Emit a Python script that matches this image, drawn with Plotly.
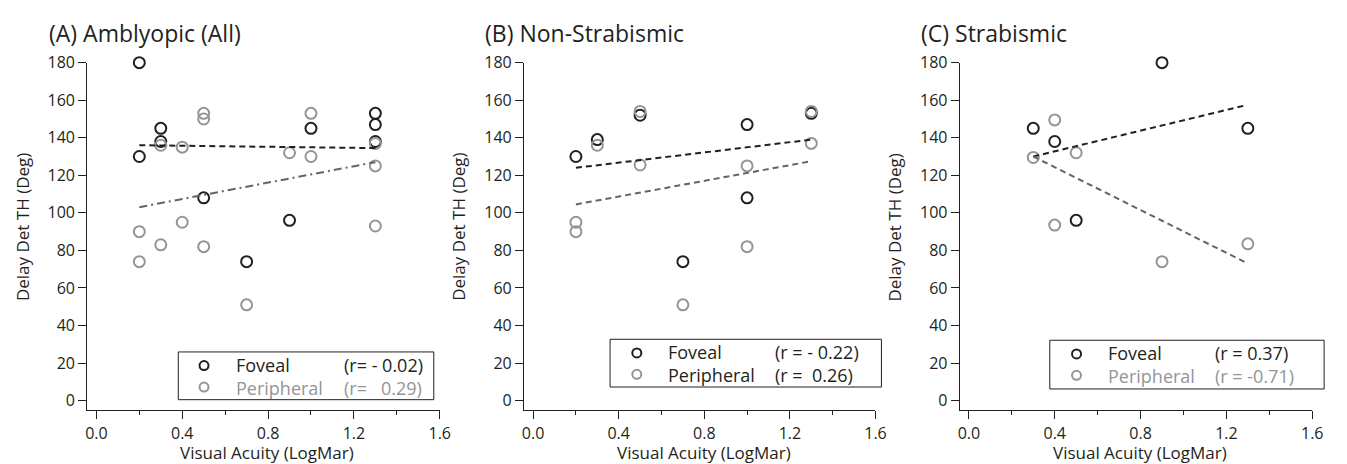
import plotly.graph_objects as go

W, H = 1347, 464

# ---------------- data ----------------
A_fov_x = [0.2, 0.2, 0.3, 0.3, 0.5, 0.7, 0.9, 1.0, 1.3, 1.3, 1.3]
A_fov_y = [180, 130, 145, 138, 108, 74, 96, 145, 153, 147, 138]
A_per_x = [0.2, 0.2, 0.3, 0.3, 0.4, 0.4, 0.5, 0.5, 0.5, 0.7, 0.9, 1.0, 1.0, 1.3, 1.3, 1.3]
A_per_y = [90, 74, 136, 83, 135, 95, 153, 150, 82, 51, 132, 153, 130, 137, 125, 93]
A_fov_fit_x = [0.2, 1.3]
A_fov_fit_y = [136, 134.5]
A_per_fit_x = [0.2, 1.3]
A_per_fit_y = [103, 127]

B_fov_x = [0.2, 0.3, 0.5, 0.7, 1.0, 1.0, 1.3]
B_fov_y = [130, 139, 152, 74, 147, 108, 153]
B_per_x = [0.2, 0.2, 0.3, 0.5, 0.5, 0.7, 1.0, 1.0, 1.3, 1.3]
B_per_y = [95, 90, 136, 154, 125.5, 51, 125, 82, 154, 137]
B_fov_fit_x = [0.2, 1.3]
B_fov_fit_y = [124, 139]
B_per_fit_x = [0.2, 1.3]
B_per_fit_y = [104.5, 127.5]

C_fov_x = [0.3, 0.4, 0.5, 0.9, 1.3]
C_fov_y = [145, 138, 96, 180, 145]
C_per_x = [0.3, 0.4, 0.4, 0.5, 0.9, 1.3]
C_per_y = [129.5, 149.5, 93.5, 132, 74, 83.5]
C_fov_fit_x = [0.3, 1.28]
C_fov_fit_y = [130, 157]
C_per_fit_x = [0.3, 1.3]
C_per_fit_y = [130, 73]

titles = ["(A) Amblyopic (All)", "(B) Non-Strabismic", "(C) Strabismic"]
r_fov = ["(r= - 0.02)", "(r = - 0.22)", "(r = 0.37)"]
r_per = ["(r=   0.29)", "(r =  0.26)", "(r = -0.71)"]
x_ticks = [0.0, 0.4, 0.8, 1.2, 1.6]
y_ticks = [0, 20, 40, 60, 80, 100, 120, 140, 160, 180]

# ---------------- style ----------------
BLACK = "#231f20"
GRAY = "#939598"
LGRAY = "#646567"
FONT = "Open Sans"

panels = [
    dict(fx=A_fov_x, fy=A_fov_y, px=A_per_x, py=A_per_y,
         ffx=A_fov_fit_x, ffy=A_fov_fit_y, pfx=A_per_fit_x, pfy=A_per_fit_y,
         pdash="dashdot", per_text=GRAY),
    dict(fx=B_fov_x, fy=B_fov_y, px=B_per_x, py=B_per_y,
         ffx=B_fov_fit_x, ffy=B_fov_fit_y, pfx=B_per_fit_x, pfy=B_per_fit_y,
         pdash="dash", per_text=BLACK),
    dict(fx=C_fov_x, fy=C_fov_y, px=C_per_x, py=C_per_y,
         ffx=C_fov_fit_x, ffy=C_fov_fit_y, pfx=C_per_fit_x, pfy=C_per_fit_y,
         pdash="dash", per_text=GRAY),
]

# pixel layout of each panel: (axis left, axis right)
ax_px = [(86, 442), (527, 882), (967, 1323)]
y_top, y_bot = 53, 410
legend_px = [  # box x0, x1, y0, y1, marker x, label x, r x
    (178, 436, 350, 399, 204, 234, 343),
    (614, 888, 337, 386, 641, 670, 779),
    (1058, 1335, 338, 388, 1085, 1115, 1223),
]


def px2x(p):
    return p / W


def px2y(p):
    return 1 - p / H


fig = go.Figure()
annotations = []
shapes = []

for i, p in enumerate(panels):
    n = "" if i == 0 else str(i + 1)
    xa, ya = "x" + n, "y" + n
    fig.add_trace(go.Scatter(x=p["fx"], y=p["fy"], mode="markers", xaxis=xa, yaxis=ya,
                             marker=dict(symbol="circle-open", size=11, color=BLACK,
                                         line=dict(width=2, color=BLACK)),
                             cliponaxis=False, showlegend=False))
    fig.add_trace(go.Scatter(x=p["px"], y=p["py"], mode="markers", xaxis=xa, yaxis=ya,
                             marker=dict(symbol="circle-open", size=11, color=GRAY,
                                         line=dict(width=2, color=GRAY)),
                             cliponaxis=False, showlegend=False))
    fig.add_trace(go.Scatter(x=p["ffx"], y=p["ffy"], mode="lines", xaxis=xa, yaxis=ya,
                             line=dict(color=BLACK, width=2, dash="6px,4px"),
                             showlegend=False))
    pd = "6px,4px" if p["pdash"] == "dash" else "8px,4px,2px,4px"
    fig.add_trace(go.Scatter(x=p["pfx"], y=p["pfy"], mode="lines", xaxis=xa, yaxis=ya,
                             line=dict(color=LGRAY, width=2, dash=pd),
                             showlegend=False))

    l, r = ax_px[i]
    axis_common = dict(showline=True, linecolor=BLACK, linewidth=1, ticks="outside",
                       tickcolor=BLACK, tickwidth=1, showgrid=False, zeroline=False,
                       tickfont=dict(family=FONT, size=16, color=BLACK))
    fig.layout["xaxis" + n] = dict(axis_common, domain=[px2x(l), px2x(r)],
                                   range=[-0.043, 1.6], tickvals=x_ticks,
                                   tickformat=".1f", ticklen=8,
                                   minor=dict(dtick=0.2, tick0=0, ticks="outside",
                                              ticklen=4, tickcolor=BLACK, tickwidth=1),
                                   anchor=ya)
    fig.layout["yaxis" + n] = dict(axis_common, domain=[px2y(y_bot), px2y(y_top)],
                                   range=[-5.2, 180], tickvals=y_ticks, ticklen=8,
                                   anchor=xa)

    # titles
    annotations.append(dict(text=titles[i], xref="paper", yref="paper",
                            x=px2x(l - 41), y=px2y(23), xanchor="left", yanchor="middle",
                            showarrow=False, font=dict(family=FONT, size=23, color=BLACK)))
    annotations.append(dict(text="Visual Acuity (LogMar)", xref="paper", yref="paper",
                            x=px2x((l + r) / 2 + 4), y=px2y(453), xanchor="center",
                            yanchor="middle", showarrow=False,
                            font=dict(family=FONT, size=17, color=BLACK)))
    annotations.append(dict(text="Delay Det TH (Deg)", xref="paper", yref="paper",
                            x=px2x(l - 66), y=px2y(222), xanchor="center",
                            yanchor="middle", textangle=-90, showarrow=False,
                            font=dict(family=FONT, size=17, color=BLACK)))

    # legend box
    bx0, bx1, by0, by1, mx, tx, rx = legend_px[i]
    shapes.append(dict(type="rect", xref="paper", yref="paper",
                       x0=px2x(bx0), x1=px2x(bx1), y0=px2y(by1), y1=px2y(by0),
                       line=dict(color=BLACK, width=1), fillcolor="white", layer="above"))
    row_y = [by0 + 14, by0 + 36]
    for mc, ry in zip([BLACK, GRAY], row_y):
        shapes.append(dict(type="circle", xref="paper", yref="paper",
                           xsizemode="pixel", ysizemode="pixel",
                           xanchor=px2x(mx), yanchor=px2y(ry),
                           x0=-4.5, x1=4.5, y0=-4.5, y1=4.5,
                           line=dict(color=mc, width=2), layer="above"))
    mid = (row_y[0] + row_y[1]) / 2
    pc = p["per_text"]
    lab_text = f"Foveal<br><span style='color:{pc}'>Peripheral</span>"
    r_text = (r_fov[i].replace(" ", "&nbsp;") + "<br>" +
              f"<span style='color:{pc}'>" + r_per[i].replace(" ", "&nbsp;") + "</span>")
    annotations.append(dict(text=lab_text, xref="paper", yref="paper", x=px2x(tx),
                            y=px2y(mid), xanchor="left", yanchor="middle", align="left",
                            showarrow=False, font=dict(family=FONT, size=18, color=BLACK)))
    annotations.append(dict(text=r_text, xref="paper", yref="paper", x=px2x(rx),
                            y=px2y(mid), xanchor="left", yanchor="middle", align="left",
                            showarrow=False, font=dict(family=FONT, size=18, color=BLACK)))

fig.update_layout(width=W, height=H, margin=dict(l=0, r=0, t=0, b=0),
                  paper_bgcolor="white", plot_bgcolor="white",
                  annotations=annotations, shapes=shapes, showlegend=False)

fig.write_html("out.html")
